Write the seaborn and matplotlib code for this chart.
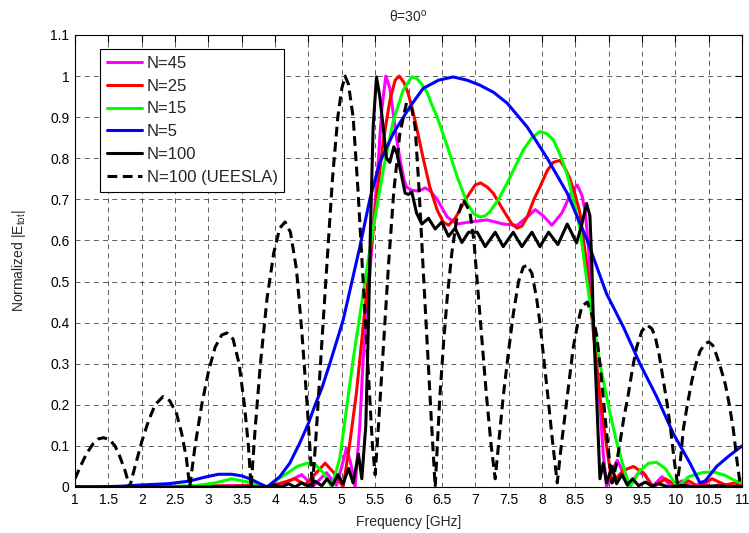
import matplotlib
matplotlib.use("Agg")
import matplotlib.pyplot as plt
import matplotlib.ticker as mticker
from matplotlib.lines import Line2D
import seaborn as sns
import pandas as pd

# ---- N=45 ----
f_n45 = [1.0, 2.0, 3.0, 3.6, 3.9, 4.15, 4.4, 4.57, 4.77, 4.92, 5.0, 5.07, 5.13, 5.2,
         5.27, 5.32, 5.4, 5.47, 5.55, 5.6, 5.66, 5.72, 5.77, 5.82, 5.87, 5.93, 5.97,
         6.05, 6.15, 6.25, 6.33, 6.43, 6.58, 6.73, 6.92, 7.18, 7.42, 7.63, 7.8, 7.9,
         8.02, 8.15, 8.3, 8.45, 8.53, 8.6, 8.65, 8.7, 8.75, 8.8, 8.87, 8.92, 8.97,
         9.05, 9.13, 9.22, 9.3, 9.45, 9.55, 9.65, 9.8, 9.95, 10.1, 10.25, 10.4, 10.55,
         10.7, 10.85, 11.0]
e_n45 = [0.0, 0.0, 0.002, 0.004, 0.0, 0.01, 0.03, 0.002, 0.035, 0.004, 0.05, 0.095, 0.06, 0.0,
         0.15, 0.31, 0.47, 0.63, 0.80, 0.92, 1.0, 0.97, 0.91, 0.85, 0.80, 0.75, 0.73,
         0.722, 0.72, 0.728, 0.72, 0.70, 0.657, 0.64, 0.645, 0.65, 0.64, 0.637, 0.66, 0.675,
         0.66, 0.637, 0.667, 0.72, 0.735, 0.71, 0.67, 0.58, 0.45, 0.33, 0.2, 0.08, 0.0,
         0.04, 0.065, 0.035, 0.0, 0.035, 0.03, 0.0, 0.025, 0.0, 0.015, 0.0, 0.01, 0.0,
         0.008, 0.0, 0.005]

# ---- N=25 ----
f_n25 = [1.0, 2.0, 3.0, 3.6, 3.85, 4.1, 4.3, 4.45, 4.62, 4.75, 4.88, 5.02, 5.12, 5.22,
         5.32, 5.42, 5.52, 5.62, 5.72, 5.8, 5.86, 5.93, 5.99, 6.05, 6.12, 6.22, 6.32,
         6.43, 6.52, 6.6, 6.7, 6.88, 7.0, 7.08, 7.18, 7.27, 7.42, 7.55, 7.63, 7.7, 7.78,
         7.88, 7.97, 8.08, 8.17, 8.27, 8.35, 8.42, 8.5, 8.57, 8.67, 8.77, 8.87, 8.97,
         9.05, 9.22, 9.37, 9.52, 9.67, 9.85, 10.0, 10.2, 10.35, 10.55, 10.75, 10.9, 11.0]
e_n25 = [0.0, 0.0, 0.002, 0.003, 0.0, 0.01, 0.02, 0.005, 0.035, 0.058, 0.035, 0.0, 0.107, 0.23,
         0.39, 0.55, 0.70, 0.84, 0.94, 0.99, 1.0, 0.985, 0.96, 0.925, 0.876, 0.80, 0.73,
         0.674, 0.645, 0.637, 0.654, 0.706, 0.735, 0.74, 0.73, 0.715, 0.674, 0.64, 0.63, 0.635, 0.657,
         0.70, 0.73, 0.77, 0.79, 0.795, 0.775, 0.75, 0.71, 0.667, 0.545, 0.38, 0.22, 0.10,
         0.01, 0.04, 0.05, 0.035, 0.0, 0.02, 0.005, 0.015, 0.0, 0.02, 0.005, 0.01, 0.0]

# ---- N=15 ----
f_n15 = [1.0, 2.0, 2.8, 3.1, 3.35, 3.6, 3.88, 4.05, 4.18, 4.33, 4.48, 4.6, 4.72, 4.85,
         4.97, 5.07, 5.17, 5.32, 5.47, 5.62, 5.77, 5.92, 6.05, 6.12, 6.2, 6.28, 6.35,
         6.43, 6.58, 6.73, 6.88, 6.98, 7.07, 7.15, 7.22, 7.35, 7.48, 7.6, 7.72, 7.85,
         7.97, 8.07, 8.17, 8.27, 8.38, 8.47, 8.57, 8.65, 8.72, 8.8, 8.87, 9.02, 9.12,
         9.22, 9.32, 9.47, 9.6, 9.72, 9.85, 10.03, 10.2, 10.4, 10.57, 10.75, 10.9, 11.0]
e_n15 = [0.0, 0.0, 0.003, 0.01, 0.02, 0.012, 0.0, 0.02, 0.033, 0.05, 0.058, 0.055, 0.035, 0.0,
         0.07, 0.19, 0.31, 0.47, 0.63, 0.77, 0.89, 0.966, 0.998, 0.995, 0.98, 0.96, 0.93,
         0.90, 0.83, 0.755, 0.69, 0.665, 0.657, 0.66, 0.67, 0.70, 0.74, 0.78, 0.82, 0.85,
         0.865, 0.86, 0.845, 0.81, 0.76, 0.70, 0.63, 0.53, 0.45, 0.37, 0.30, 0.18, 0.11,
         0.05, 0.0, 0.04, 0.058, 0.06, 0.045, 0.0, 0.025, 0.035, 0.037, 0.028, 0.015, 0.01]

# ---- N=5 ----
f_n5 = [1.0, 1.3, 1.7, 2.0, 2.4, 2.7, 2.95, 3.15, 3.35, 3.5, 3.62, 3.75, 3.88, 4.07,
        4.22, 4.37, 4.5, 4.6, 4.7, 4.82, 5.02, 5.27, 5.42, 5.57, 5.77, 6.02, 6.22,
        6.45, 6.67, 6.88, 7.07, 7.28, 7.48, 7.78, 8.08, 8.38, 8.68, 8.97, 9.22, 9.47,
        9.72, 9.97, 10.22, 10.37, 10.45, 10.62, 10.8, 11.0]
e_n5 = [0.0, 0.0, 0.002, 0.005, 0.008, 0.014, 0.024, 0.031, 0.031, 0.027, 0.02, 0.01, 0.0, 0.025,
        0.058, 0.107, 0.155, 0.2, 0.24, 0.30, 0.406, 0.584, 0.70, 0.79, 0.86, 0.925, 0.97,
        0.99, 0.998, 0.99, 0.978, 0.96, 0.934, 0.876, 0.80, 0.715, 0.60, 0.47, 0.39, 0.30,
        0.22, 0.13, 0.058, 0.01, 0.015, 0.05, 0.075, 0.10]

# ---- N=100 ----
f_n100 = [1.0, 3.0, 3.9, 4.0, 4.1, 4.2, 4.3, 4.4, 4.5, 4.6, 4.7, 4.78, 4.86, 4.94,
          5.02, 5.1, 5.17, 5.25, 5.3, 5.36, 5.4, 5.43, 5.47, 5.52, 5.57, 5.62, 5.67,
          5.72, 5.78, 5.83, 5.88, 5.95, 6.0, 6.05, 6.12, 6.2, 6.3, 6.4, 6.5, 6.6, 6.7,
          6.8, 6.9, 7.03, 7.15, 7.3, 7.42, 7.57, 7.7, 7.85, 7.97, 8.1, 8.24, 8.38,
          8.52, 8.6, 8.67, 8.72, 8.75, 8.77, 8.82, 8.87, 8.92, 8.97, 9.05, 9.12, 9.2,
          9.28, 9.36, 9.45, 9.55, 9.65, 9.75, 9.9, 10.1, 10.3, 10.6, 11.0]
e_n100 = [0.0, 0.0, 0.0, 0.005, 0.0, 0.008, 0.0, 0.01, 0.002, 0.014, 0.003, 0.02, 0.004, 0.03,
          0.008, 0.045, 0.01, 0.08, 0.02, 0.15, 0.40, 0.63, 0.876, 0.998, 0.95, 0.876, 0.80,
          0.79, 0.828, 0.81, 0.77, 0.715, 0.712, 0.718, 0.667, 0.64, 0.654, 0.628, 0.645, 0.61, 0.63,
          0.595, 0.62, 0.62, 0.585, 0.62, 0.585, 0.62, 0.585, 0.62, 0.585, 0.62, 0.59, 0.64,
          0.594, 0.64, 0.69, 0.66, 0.535, 0.41, 0.22, 0.02, 0.058, 0.01, 0.05, 0.008, 0.03,
          0.005, 0.02, 0.003, 0.012, 0.002, 0.008, 0.0, 0.004, 0.0, 0.003, 0.0]

# ---- N=100 (UEESLA) ----
f_ue = [1.0, 1.08, 1.17, 1.27, 1.35, 1.43, 1.52, 1.6, 1.67, 1.75, 1.82,
        1.9, 2.0, 2.1, 2.2, 2.32, 2.42, 2.52, 2.6, 2.67, 2.72,
        2.8, 2.9, 3.0, 3.1, 3.2, 3.28, 3.37, 3.46, 3.54, 3.6, 3.64,
        3.7, 3.78, 3.88, 3.98, 4.07, 4.15, 4.23, 4.32, 4.4, 4.48, 4.56,
        4.62, 4.7, 4.78, 4.86, 4.94, 5.0, 5.05, 5.1, 5.17, 5.24, 5.32, 5.4, 5.46, 5.5,
        5.55, 5.62, 5.7, 5.78, 5.87, 5.97, 6.05, 6.1, 6.16, 6.22, 6.28, 6.34, 6.4,
        6.47, 6.53, 6.58, 6.65, 6.72, 6.82, 6.92, 6.98, 7.03, 7.1, 7.17, 7.24, 7.3,
        7.36, 7.42, 7.5, 7.57, 7.65, 7.72, 7.78, 7.85, 7.92, 7.97, 8.03, 8.09, 8.16, 8.23,
        8.29, 8.35, 8.41, 8.47, 8.54, 8.6, 8.68, 8.77, 8.82, 8.87, 8.93, 8.99, 9.05,
        9.11, 9.17, 9.23, 9.29, 9.36, 9.42, 9.5, 9.58, 9.65, 9.7, 9.76, 9.82, 9.88,
        9.93, 9.98, 10.03,
        10.08, 10.12, 10.18, 10.25, 10.31, 10.37, 10.44, 10.5, 10.56, 10.62, 10.68,
        10.75, 10.81, 10.87, 10.92, 10.97, 11.0]
e_ue = [0.02, 0.05, 0.08, 0.105, 0.117, 0.12, 0.115, 0.10, 0.075, 0.04, 0.0,
        0.05, 0.11, 0.16, 0.20, 0.22, 0.21, 0.18, 0.13, 0.07, 0.0,
        0.10, 0.20, 0.28, 0.34, 0.37, 0.375, 0.36, 0.30, 0.20, 0.10, 0.0,
        0.14, 0.30, 0.46, 0.57, 0.63, 0.645, 0.62, 0.53, 0.38, 0.20, 0.0,
        0.14, 0.35, 0.55, 0.75, 0.90, 0.97, 1.0, 0.98, 0.90, 0.73, 0.50, 0.27, 0.10, 0.03,
        0.15, 0.33, 0.54, 0.72, 0.86, 0.935, 0.92, 0.876, 0.72, 0.53, 0.35, 0.17, 0.0,
        0.22, 0.36, 0.46, 0.57, 0.65, 0.70, 0.67, 0.60, 0.50, 0.36, 0.22, 0.10, 0.02,
        0.12, 0.22, 0.33, 0.42, 0.50, 0.535, 0.54, 0.52, 0.46, 0.40, 0.31, 0.22, 0.11, 0.01,
        0.10, 0.18, 0.26, 0.34, 0.40, 0.44, 0.45, 0.41, 0.37, 0.30, 0.20, 0.10, 0.01,
        0.05, 0.107, 0.17, 0.22, 0.29, 0.34, 0.38, 0.394, 0.385, 0.365, 0.32, 0.26, 0.20,
        0.14, 0.07, 0.01,
        0.07, 0.14, 0.20, 0.26, 0.30, 0.33, 0.348, 0.353, 0.345, 0.32, 0.29,
        0.25, 0.20, 0.14, 0.07, 0.01, 0.02]

series = [
    ("N=45", f_n45, e_n45, "#FF00FF", "-"),
    ("N=25", f_n25, e_n25, "#FF0000", "-"),
    ("N=15", f_n15, e_n15, "#00FF00", "-"),
    ("N=5", f_n5, e_n5, "#0000FF", "-"),
    ("N=100", f_n100, e_n100, "#000000", "-"),
    ("N=100 (UEESLA)", f_ue, e_ue, "#000000", (0, (3.2, 1.8))),
]

x_ticks = [1 + 0.5 * i for i in range(21)]
y_ticks = [0.1 * i for i in range(12)]

sns.set_style("white")
plt.rcParams["font.family"] = ["Liberation Sans", "DejaVu Sans"]
plt.rcParams["mathtext.fontset"] = "custom"
plt.rcParams["mathtext.rm"] = "Liberation Sans"
plt.rcParams["mathtext.it"] = "Liberation Sans"

fig = plt.figure(figsize=(7.49, 5.33), dpi=100)
ax = fig.add_axes([75 / 749, 1 - 487 / 533, 667 / 749, 452 / 533])

handles = []
for label, fx, fy, color, ls in series:
    df = pd.DataFrame({"f": fx, "e": fy})
    sns.lineplot(data=df, x="f", y="e", ax=ax, color=color, linewidth=2.2,
                 linestyle=ls, estimator=None, sort=False, legend=False)
    handles.append(Line2D([0], [0], color=color, linewidth=2.2, linestyle=ls, label=label))

ax.set_xlim(1, 11)
ax.set_ylim(0, 1.1)
ax.set_xticks(x_ticks)
ax.set_yticks(y_ticks)
ax.xaxis.set_major_formatter(mticker.FuncFormatter(lambda v, p: f"{v:g}"))
ax.yaxis.set_major_formatter(mticker.FuncFormatter(lambda v, p: f"{round(v, 1):g}"))
ax.tick_params(direction="in", length=5, width=0.8, top=True, right=True,
               labelsize=10, colors="black", pad=4)
ax.grid(True, color="#444444", linewidth=0.6, linestyle=(0, (6, 5)))
for s in ax.spines.values():
    s.set_color("black")
    s.set_linewidth(0.8)

ax.set_xlabel("Frequency [GHz]", fontsize=10, labelpad=6)
ax.set_ylabel(r"Normalized |E$_{\mathrm{tot}}$|", fontsize=10, labelpad=16)
ax.set_title(r"θ=30$^{\mathrm{o}}$", fontsize=10, pad=10)

leg = ax.legend(handles=handles, loc="upper left", bbox_to_anchor=(0.0375, 0.969),
                borderaxespad=0, frameon=True, fancybox=False, framealpha=1,
                edgecolor="black", fontsize=12, handlelength=2.1, handletextpad=0.3,
                labelspacing=0.47, borderpad=0.4)
leg.get_frame().set_linewidth(0.8)

fig.savefig("out.png", dpi=100)
